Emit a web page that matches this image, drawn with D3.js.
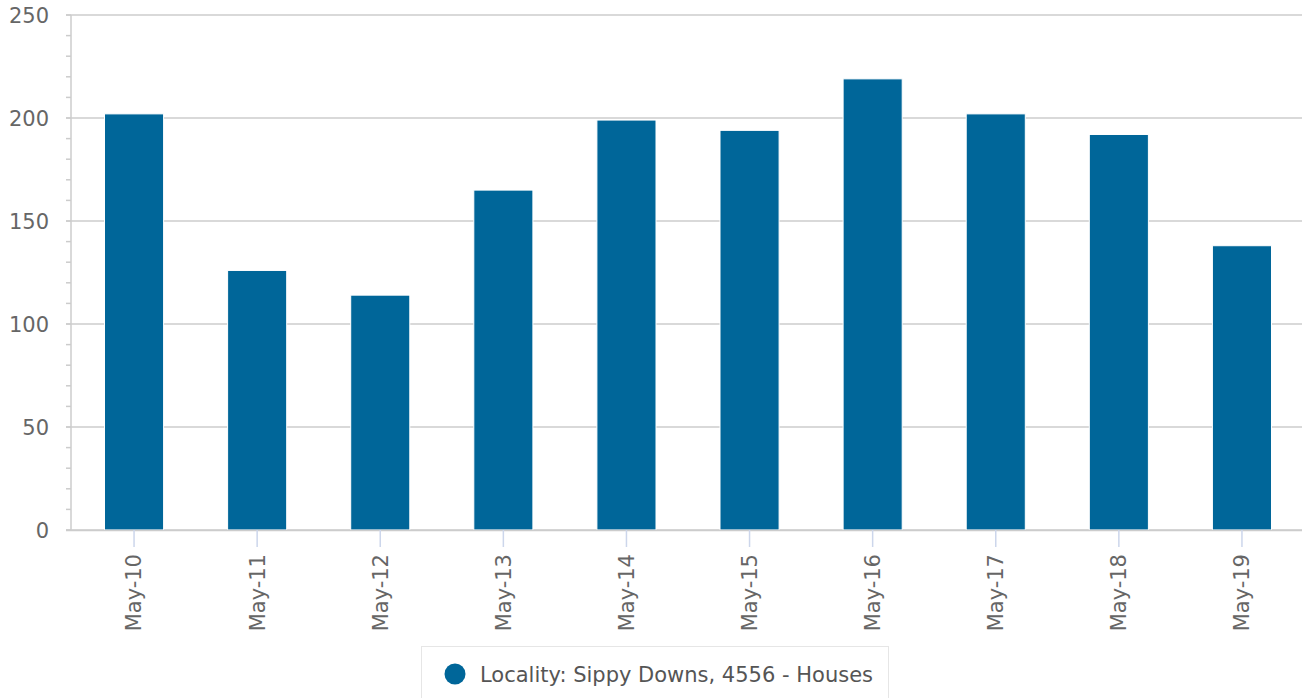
<!DOCTYPE html>
<html>
<head>
<meta charset="utf-8">
<script src="https://cdn.jsdelivr.net/npm/d3@7"></script>
<style>
  body { margin: 0; background: #fff; }
  svg { display: block; font-family: "DejaVu Sans", sans-serif; }
</style>
</head>
<body>
<div id="chart"></div>
<script>
// data
const categories = ["May-10", "May-11", "May-12", "May-13", "May-14", "May-15", "May-16", "May-17", "May-18", "May-19"];
const values = [202, 126, 114, 165, 199, 194, 219, 202, 192, 138];
const yTicks = [0, 50, 100, 150, 200, 250];
const seriesName = "Locality: Sippy Downs, 4556 - Houses";

const W = 1302, H = 698;
const margin = { top: 15, right: 0, bottom: 168, left: 71 };
const width = W - margin.left - margin.right,
  height = H - margin.top - margin.bottom;

const svg = d3.select("#chart")
  .append("svg")
  .attr("width", W)
  .attr("height", H);

const g = svg.append("g")
  .attr("transform", `translate(${margin.left},${margin.top})`);

const x = d3.scaleBand()
  .domain(categories)
  .range([1.5, width + 1.5])
  .paddingInner(0.52)
  .paddingOuter(0.26);

const y = d3.scaleLinear()
  .domain([0, 250])
  .range([height, 0]);

// minor ticks every 10
g.append("g")
  .selectAll("line")
  .data(d3.range(0, 251, 10))
  .join("line")
  .attr("x1", -5).attr("x2", 0)
  .attr("y1", d => y(d)).attr("y2", d => y(d))
  .attr("stroke", "#ccc")
  .attr("stroke-width", 1.5);

// gridlines
g.append("g")
  .selectAll("line")
  .data(yTicks)
  .join("line")
  .attr("x1", -5).attr("x2", width)
  .attr("y1", d => y(d)).attr("y2", d => y(d))
  .attr("stroke", "#ccc")
  .attr("stroke-width", 1.5);

// y axis line
g.append("line")
  .attr("x1", 0).attr("x2", 0)
  .attr("y1", 0).attr("y2", height)
  .attr("stroke", "#ccc")
  .attr("stroke-width", 1.5);

// y labels
g.append("g")
  .selectAll("text")
  .data(yTicks)
  .join("text")
  .attr("x", -22)
  .attr("y", d => y(d))
  .attr("dy", "0.36em")
  .attr("text-anchor", "end")
  .attr("fill", "#666")
  .style("font-size", "21px")
  .text(d => d);

// bars
g.append("g")
  .selectAll("rect")
  .data(values)
  .join("rect")
  .attr("x", (d, i) => x(categories[i]))
  .attr("y", d => y(d))
  .attr("width", x.bandwidth())
  .attr("height", d => height - y(d))
  .attr("fill", "#006699")
  .attr("stroke", "#fff")
  .attr("stroke-width", 1);

// x axis
const xAxis = g.append("g")
  .attr("transform", `translate(0,${height})`)
  .call(d3.axisBottom(x).tickSize(17).tickPadding(8));
xAxis.select(".domain").attr("stroke", "#ccc").attr("stroke-width", 1.5)
  .attr("d", `M-5,0.5H${width}`);
xAxis.selectAll(".tick line").attr("stroke", "#ccd6eb").attr("stroke-width", 1.5);
xAxis.selectAll(".tick text")
  .attr("fill", "#666")
  .style("font-size", "21px")
  .style("font-family", "DejaVu Sans, sans-serif")
  .attr("transform", "rotate(-90)")
  .attr("text-anchor", "end")
  .attr("x", -24)
  .attr("y", 0)
  .attr("dy", "0.35em");

// legend
const legend = svg.append("g");
legend.append("rect")
  .attr("x", 421.5).attr("y", 646.5)
  .attr("width", 467).attr("height", 60)
  .attr("fill", "#fff")
  .attr("stroke", "#e6e6e6");
legend.append("circle")
  .attr("cx", 455).attr("cy", 674)
  .attr("r", 10.5)
  .attr("fill", "#006699");
legend.append("text")
  .attr("x", 480).attr("y", 682)
  .attr("fill", "#555")
  .style("font-size", "21px")
  .text(seriesName);
</script>
</body>
</html>
